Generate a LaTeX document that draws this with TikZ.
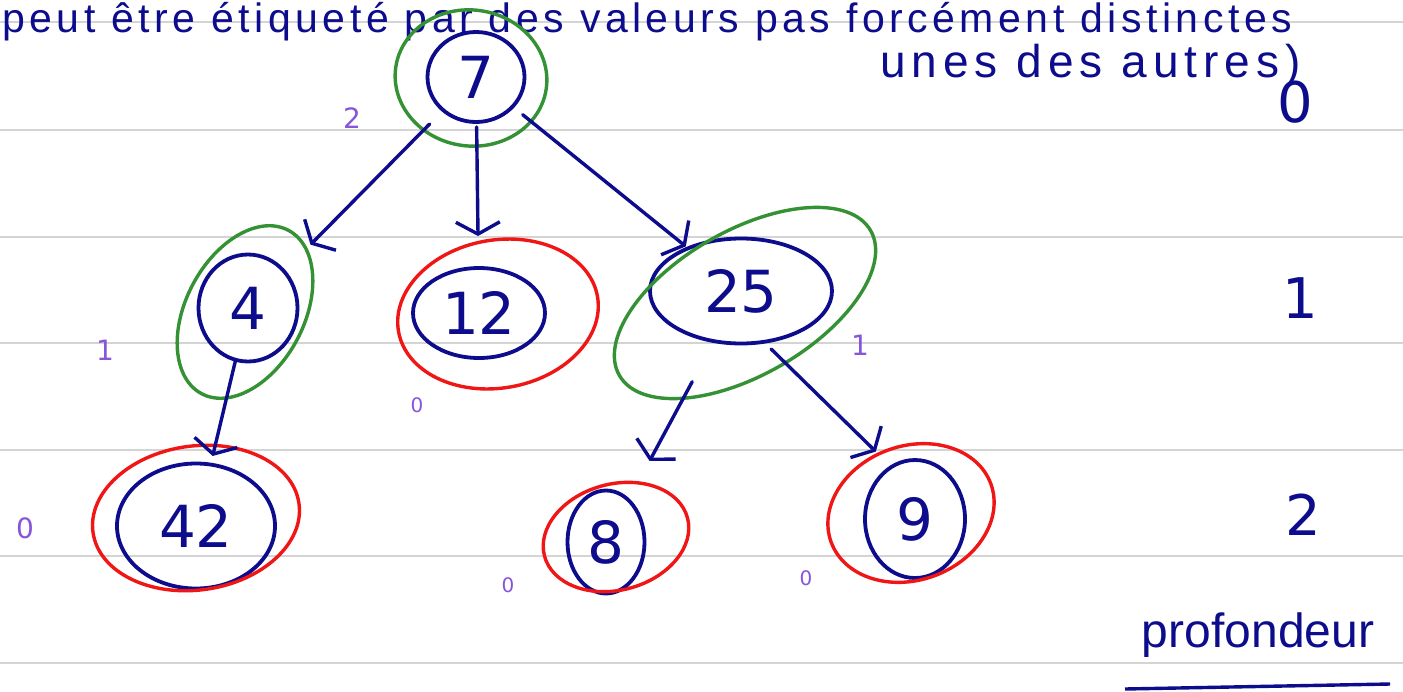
\documentclass[tikz,border=0pt]{standalone}
\usepackage{fontspec}
\setmainfont{DejaVu Sans}
\newfontfamily\notefont{Liberation Sans}
\newfontfamily\notewide[LetterSpace=11]{Liberation Sans}
\newfontfamily\notewider[LetterSpace=13]{Liberation Sans}
\usetikzlibrary{shapes.geometric,arrows.meta}
\definecolor{ink}{RGB}{12,12,140}
\definecolor{grn}{RGB}{52,145,52}
\definecolor{rd}{RGB}{240,22,22}
\definecolor{vio}{RGB}{135,85,220}
\definecolor{rulegray}{RGB}{212,212,212}
\begin{document}
\begin{tikzpicture}[x=1pt,y=-1pt,
  inner/.style={ellipse,draw=ink,line width=3.8pt,inner sep=0pt,text=ink,font=\fontsize{58}{58}\selectfont},
  grnring/.style={ellipse,draw=grn,line width=3.4pt,inner sep=0pt},
  redring/.style={ellipse,draw=rd,line width=3.4pt,inner sep=0pt},
  edge/.style={draw=ink,line width=3.4pt,line cap=round,-{Straight Barb[length=12pt,width=44pt,line width=3.4pt]}},
  lvl/.style={text=vio,inner sep=0pt,font=\fontsize{28}{28}\selectfont},
  lvls/.style={text=vio,inner sep=0pt,font=\fontsize{20}{20}\selectfont},
  depth/.style={text=ink,inner sep=0pt,font=\fontsize{56}{56}\selectfont},
  note/.style={text=ink,inner sep=0pt,font=\notefont\fontsize{38}{38}\selectfont}]
\clip (0,0) rectangle (1403,691);
\fill[white] (0,0) rectangle (1403,691);
% ruled lines
\foreach \yy in {22,130,237,343,450,556,663}
  \draw[rulegray,line width=2pt] (0,\yy) -- (1403,\yy);
% top note
\node[note,font=\notewide\fontsize{41}{41}\selectfont,anchor=base west] (t1) at (2,32) {peut être étiqueté par des valeurs pas forcément distinctes};
\node[note,font=\notewider\fontsize{46}{46}\selectfont,anchor=base west] (t2) at (880,77) {unes des autres)};
% inner nodes
\node[inner,minimum width=97pt,minimum height=90pt] (n7) at (476,77) {7};
\node[inner,minimum width=99pt,minimum height=107pt] (n4) at (248,308) {4};
\node[inner,minimum width=132pt,minimum height=90pt] (n12) at (479,313) {12};
\node[inner,minimum width=182pt,minimum height=105pt] (n25) at (741,291) {25};
\node[inner,minimum width=158pt,minimum height=125pt] (n42) at (196,526) {42};
\node[inner,minimum width=77pt,minimum height=103pt] (n8) at (606,542) {8};
\node[inner,minimum width=100pt,minimum height=118pt] (n9) at (915,519) {9};
% outer rings
\node[grnring,minimum width=152pt,minimum height=136pt,rotate=-8] (g7) at (471,78) {};
\node[grnring,minimum width=185pt,minimum height=118pt,rotate=62] (g4) at (245,312) {};
\node[grnring,minimum width=290pt,minimum height=144pt,rotate=30] (g25) at (745,303) {};
\node[redring,minimum width=202pt,minimum height=148pt,rotate=10] (r12) at (498,314) {};
\node[redring,minimum width=208pt,minimum height=144pt,rotate=8] (r42) at (196,518) {};
\node[redring,minimum width=148pt,minimum height=106pt,rotate=15] (r8) at (616,537) {};
\node[redring,minimum width=170pt,minimum height=134pt,rotate=20] (r9) at (911,513) {};
% edges
\draw[edge,shorten <=66pt,shorten >=89pt] (n7.center) -- (n4.center);
\draw[edge,shorten <=50pt,shorten >=77pt] (n7.center) -- (n12.center);
\draw[edge,shorten <=60pt,shorten >=71pt] (n7.center) -- (n25.center);
\draw[edge,shorten <=53pt,shorten >=72pt] (n4.center) -- (n42.center);
\draw[edge,shorten <=103pt,shorten >=92pt] (n25.center) -- (n8.center);
\draw[edge,shorten <=8pt,shorten >=20pt] (n25.-65) -- (n9.115);
% level labels
\node[lvl] (h7) at (352,118) {2};
\node[lvl] (h4) at (105,350) {1};
\node[lvls] (h12) at (417,405) {0};
\node[lvl] (h25) at (860,345) {1};
\node[lvl] (h42) at (25,528) {0};
\node[lvls] (h8) at (508,585) {0};
\node[lvls] (h9) at (806,578) {0};
% depth column
\node[depth] (d0) at (1295,102) {0};
\node[depth] (d1) at (1300,298) {1};
\node[depth] (d2) at (1303,515) {2};
\node[note,font=\notefont\fontsize{48}{48}\selectfont] (prof) at (1258,635) {profondeur};
\draw[ink,line width=3.4pt] (1125,689) -- (1390,684);
\end{tikzpicture}
\end{document}
